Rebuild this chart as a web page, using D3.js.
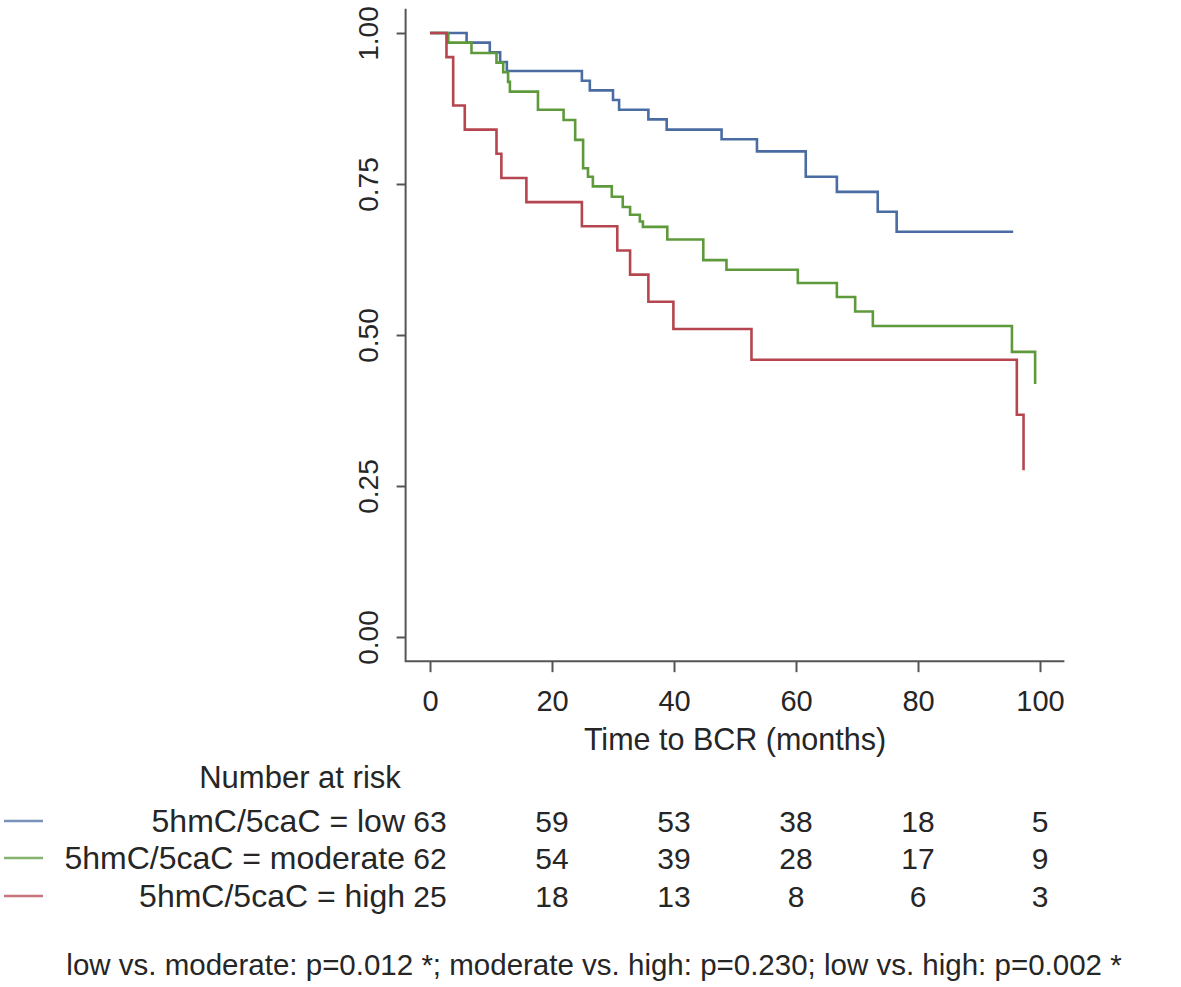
<!DOCTYPE html>
<html>
<head>
<meta charset="utf-8">
<script src="https://cdn.jsdelivr.net/npm/d3@7"></script>
<style>
  html, body { margin: 0; padding: 0; background: #fff; }
  text { font-family: "Liberation Sans", Arial, Helvetica, sans-serif; fill: #262626; }
</style>
</head>
<body>
<script>
// Kaplan-Meier steps: [months, survival]
const lowSteps = [
  [0, 1.0], [6.0, 0.984], [9.8, 0.968], [11.5, 0.952], [12.6, 0.937],
  [24.9, 0.921], [26.2, 0.905], [30.0, 0.889], [31.0, 0.873], [35.8, 0.857],
  [38.8, 0.840], [47.8, 0.824], [53.6, 0.804], [61.6, 0.762], [66.7, 0.737],
  [73.4, 0.704], [76.5, 0.671], [95.6, 0.671]
];
const moderateSteps = [
  [0, 1.0], [3.0, 0.984], [6.8, 0.967], [10.9, 0.951], [12.0, 0.935],
  [12.8, 0.919], [13.1, 0.903], [17.7, 0.873], [21.9, 0.856], [23.8, 0.823],
  [25.1, 0.776], [25.9, 0.762], [26.7, 0.746], [29.8, 0.729], [31.6, 0.712],
  [32.8, 0.699], [34.4, 0.688], [34.9, 0.679], [38.9, 0.658], [44.8, 0.624],
  [48.6, 0.608], [60.3, 0.586], [66.7, 0.563], [69.7, 0.539], [72.6, 0.515],
  [95.4, 0.472], [99.2, 0.419]
];
const highSteps = [
  [0, 1.0], [2.7, 0.96], [3.8, 0.88], [5.7, 0.84], [10.9, 0.80],
  [11.7, 0.76], [15.8, 0.72], [24.9, 0.68], [30.7, 0.64], [32.8, 0.60],
  [35.8, 0.555], [39.9, 0.51], [52.7, 0.459], [96.2, 0.368], [97.3, 0.276]
];

const groupNames = ["5hmC/5caC = low", "5hmC/5caC = moderate", "5hmC/5caC = high"];
const groupColors = ["#4a6ca2", "#5e9a3c", "#b5464f"];
const riskTimes = [0, 20, 40, 60, 80, 100];
const riskLow = [63, 59, 53, 38, 18, 5];
const riskModerate = [62, 54, 39, 28, 17, 9];
const riskHigh = [25, 18, 13, 8, 6, 3];
const xTicks = [0, 20, 40, 60, 80, 100];
const yTicks = [0, 0.25, 0.5, 0.75, 1];
const pText = "low vs. moderate: p=0.012 *; moderate vs. high: p=0.230; low vs. high: p=0.002 *";

const W = 1181, H = 987;
const svg = d3.select("body").append("svg")
  .attr("width", W)
  .attr("height", H);

var x = d3.scaleLinear().domain([0, 100]).range([430, 1040]);
var y = d3.scaleLinear().domain([0, 1]).range([637, 33]);

// L-shaped box like R's bty="l" (4% padding around the data range)
svg.append("path")
  .attr("d", "M" + x(-4) + "," + y(1.04) + "V" + y(-0.04) + "H" + x(104))
  .attr("fill", "none")
  .attr("stroke", "#555")
  .attr("stroke-width", 2);

// y axis
var yAxis = svg.append("g")
  .attr("transform", "translate(" + x(-4) + ",0)")
  .call(d3.axisLeft(y).tickValues(yTicks).tickFormat(d3.format(".2f")).tickSize(9));
yAxis.select(".domain").remove();
yAxis.selectAll("line").attr("stroke", "#555").attr("stroke-width", 2);
yAxis.selectAll("text")
  .attr("x", 0).attr("y", -28).attr("dy", null)
  .attr("transform", "rotate(-90)")
  .attr("text-anchor", "middle")
  .style("font-size", "28px")
  .style("font-family", "Liberation Sans, Arial, sans-serif")
  .attr("fill", "#262626");

// x axis
var xAxis = svg.append("g")
  .attr("transform", "translate(0," + y(-0.04) + ")")
  .call(d3.axisBottom(x).tickValues(xTicks).tickSize(11));
xAxis.select(".domain").remove();
xAxis.selectAll("line").attr("stroke", "#555").attr("stroke-width", 2);
xAxis.selectAll("text")
  .attr("y", 50).attr("dy", null)
  .style("font-size", "29px")
  .style("font-family", "Liberation Sans, Arial, sans-serif")
  .attr("fill", "#262626");

svg.append("text")
  .attr("x", (x(0) + x(100)) / 2)
  .attr("y", 750)
  .attr("text-anchor", "middle")
  .style("font-size", "30.5px")
  .text("Time to BCR (months)");

// survival curves
var line = d3.line()
  .x(d => x(d[0]))
  .y(d => y(d[1]))
  .curve(d3.curveStepAfter);

[lowSteps, moderateSteps, highSteps].forEach(function (steps, i) {
  svg.append("path")
    .datum(steps)
    .attr("d", line)
    .attr("fill", "none")
    .attr("stroke", groupColors[i])
    .attr("stroke-width", 2.6);
});

// number at risk table
svg.append("text")
  .attr("x", 300)
  .attr("y", 788)
  .attr("text-anchor", "middle")
  .style("font-size", "31px")
  .text("Number at risk");

var rowY = [832, 869, 907];
[riskLow, riskModerate, riskHigh].forEach(function (counts, i) {
  svg.append("line")
    .attr("x1", 4).attr("x2", 43)
    .attr("y1", rowY[i] - 11).attr("y2", rowY[i] - 11)
    .attr("stroke", groupColors[i])
    .attr("stroke-opacity", 0.75)
    .attr("stroke-width", 2.6);
  svg.append("text")
    .attr("x", 405)
    .attr("y", rowY[i])
    .attr("text-anchor", "end")
    .style("font-size", "32px")
    .text(groupNames[i]);
  svg.selectAll(null)
    .data(counts)
    .enter().append("text")
    .attr("x", (d, j) => x(riskTimes[j]))
    .attr("y", rowY[i])
    .attr("text-anchor", "middle")
    .style("font-size", "30px")
    .text(d => d);
});

svg.append("text")
  .attr("x", 594)
  .attr("y", 975)
  .attr("text-anchor", "middle")
  .style("font-size", "29.5px")
  .text(pText);
</script>
</body>
</html>
